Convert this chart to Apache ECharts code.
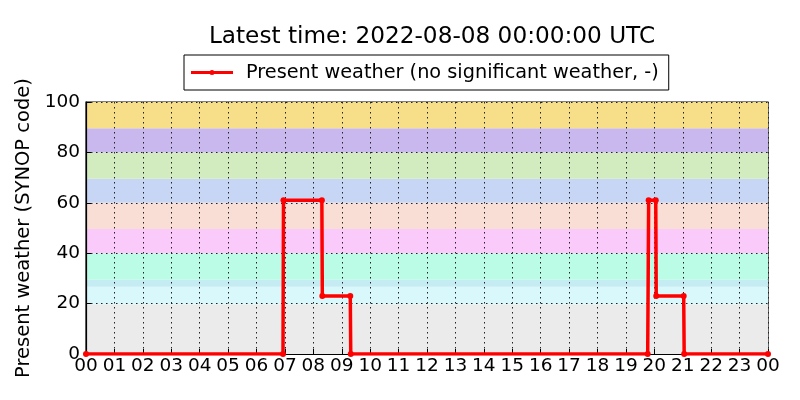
<!DOCTYPE html>
<html>
<head>
<meta charset="utf-8">
<script src="https://cdn.jsdelivr.net/npm/echarts@6/dist/echarts.min.js"></script>
<style>
  html, body { margin: 0; padding: 0; background: #fff; }
  #container { width: 800px; height: 400px; }
</style>
</head>
<body>
<div id="container"></div>
<script>
let chart = echarts.init(document.getElementById('container'));

// minutes since 00:00 UTC and present weather code
let times = [0, 416, 417, 498, 499, 558, 559, 1186, 1188, 1203, 1204, 1262, 1263, 1440];
let codes = [0, 0, 61, 61, 23, 23, 0, 0, 61, 61, 23, 23, 0, 0];
let hourLabels = ['00','01','02','03','04','05','06','07','08','09','10','11','12',
                  '13','14','15','16','17','18','19','20','21','22','23','00'];

// background bands of SYNOP code groups
let bandFrom = [0, 19.7, 26.7, 29.5, 40, 49.6, 60, 69.5, 80, 89.6];
let bandTo = [19.7, 26.7, 29.5, 40, 49.6, 60, 69.5, 80, 89.6, 100];
let bandColors = ['#ebebeb', '#d8f8fc', '#c5ecf3', '#bbfce6', '#f9cafa',
                  '#f8ded5', '#c8d6f5', '#d3ecbf', '#c9b8ee', '#f7df8a'];

let font = 'DejaVu Sans';
let seriesName = 'Present weather (no significant weather, -)';

let bands = bandFrom.map((from, i) => [
    { yAxis: from, itemStyle: { color: bandColors[i] } },
    { yAxis: bandTo[i] }
]);

let gridLine = { show: true, lineStyle: { color: '#222', type: [1.5, 3.5], width: 1 } };

// legend icon: line with a small dot in the middle
let legendIcon = 'path://M0,2.5 L42,2.5 L42,5.5 L0,5.5 Z M18.5,4 A2.5,2.5 0 1,1 23.5,4 A2.5,2.5 0 1,1 18.5,4 Z';

let option = {
    animation: false,
    textStyle: { fontFamily: font },
    title: {
        text: 'Latest time: 2022-08-08 00:00:00 UTC',
        left: 427,
        textAlign: 'center',
        top: 20,
        textStyle: { fontFamily: font, fontSize: 23.2, fontWeight: 'normal', color: '#000' },
    },
    legend: {
        data: [{ name: seriesName, icon: legendIcon }],
        left: 184,
        top: 55,
        padding: [8, 10, 8, 7],
        itemWidth: 42,
        itemHeight: 5,
        itemGap: 0,
        borderColor: '#000',
        borderWidth: 1,
        borderRadius: 0,
        backgroundColor: '#fff',
        z: 10,
        textStyle: { fontFamily: font, fontSize: 19.3, color: '#000', padding: [0, 0, 0, 8] },
    },
    grid: {
        left: 86,
        right: 32,
        top: 102,
        bottom: 46,
        show: true,
        borderColor: '#000',
        borderWidth: 1.2,
    },
    xAxis: {
        type: 'value',
        min: 0,
        max: 1440,
        interval: 60,
        z: 3,
        axisLine: { show: true, onZero: false, lineStyle: { color: '#000', width: 1.2 } },
        axisTick: { show: true, inside: true, length: 5, lineStyle: { color: '#000' } },
        splitLine: gridLine,
        axisLabel: {
            color: '#000',
            fontSize: 18.5,
            fontFamily: font,
            margin: 3,
            formatter: value => hourLabels[Math.round(value / 60)],
        },
    },
    yAxis: {
        type: 'value',
        min: 0,
        max: 100,
        interval: 20,
        z: 3,
        name: 'Present weather (SYNOP code)',
        nameLocation: 'middle',
        nameGap: 45,
        nameTextStyle: { fontFamily: font, fontSize: 19.5, color: '#000' },
        axisLine: { show: true, lineStyle: { color: '#000', width: 1.2 } },
        axisTick: { show: true, inside: true, length: 5, lineStyle: { color: '#000' } },
        splitLine: gridLine,
        axisLabel: { color: '#000', fontSize: 18.5, fontFamily: font, margin: 6 },
    },
    series: [{
        name: 'bands',
        type: 'line',
        data: [],
        z: 1,
        silent: true,
        markArea: {
            silent: true,
            data: bands,
        },
    }, {
        name: seriesName,
        type: 'line',
        data: times.map((t, i) => [t, codes[i]]),
        symbol: 'circle',
        symbolSize: 6,
        showAllSymbol: true,
        clip: true,
        z: 5,
        lineStyle: { color: '#ff0000', width: 3.5 },
        itemStyle: { color: '#ff0000' },
    }],
};
chart.setOption(option);
</script>
</body>
</html>
